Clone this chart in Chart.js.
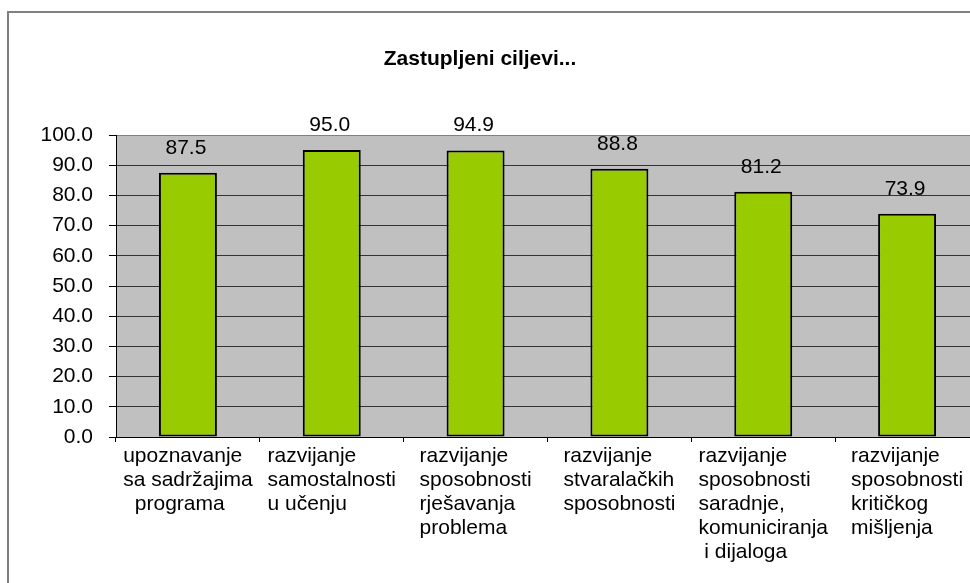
<!DOCTYPE html>
<html>
<head>
<meta charset="utf-8">
<script src="https://cdn.jsdelivr.net/npm/chart.js@4"></script>
<style>
    html, body { margin: 0; padding: 0; background: #fff; overflow: hidden; width: 970px; height: 583px; }
    .frame { position: absolute; left: 7px; top: 11px; width: 1100px; height: 700px; border-left: 2px solid #808080; border-top: 2px solid #808080; }
    #chart { position: absolute; left: 0; top: 0; }
</style>
</head>
<body>
<div class="frame"></div>
<canvas id="chart" width="1000" height="600"></canvas>
<script>
const chartTitle = 'Zastupljeni ciljevi...';
const categories = [
    ['upoznavanje', 'sa sadržajima', '  programa'],
    ['razvijanje', 'samostalnosti', 'u učenju'],
    ['razvijanje', 'sposobnosti', 'rješavanja', 'problema'],
    ['razvijanje', 'stvaralačkih', 'sposobnosti'],
    ['razvijanje', 'sposobnosti', 'saradnje,', 'komuniciranja', ' i dijaloga'],
    ['razvijanje', 'sposobnosti', 'kritičkog', 'mišljenja']
];
const values = [87.5, 95.0, 94.9, 88.8, 81.2, 73.9];
const yMin = 0;
const yMax = 100;
const yStep = 10;

const FONT = 'Arial, "Liberation Sans", sans-serif';

// gray plot background + title
const plotBackground = {
    id: 'plotBackground',
    beforeDraw(chart) {
        const { ctx, chartArea: a } = chart;
        ctx.save();
        ctx.fillStyle = '#C0C0C0';
        ctx.fillRect(a.left, a.top, a.right - a.left, a.bottom - a.top);
        ctx.restore();
    },
    afterDraw(chart) {
        const ctx = chart.ctx;
        ctx.save();
        ctx.font = 'bold 21px ' + FONT;
        ctx.fillStyle = '#000';
        ctx.textAlign = 'center';
        ctx.textBaseline = 'alphabetic';
        ctx.fillText(chartTitle, 480, 65);
        ctx.restore();
    }
};

// category labels: block centred under the category, lines left aligned
const categoryLabels = {
    id: 'categoryLabels',
    afterDraw(chart) {
        const ctx = chart.ctx;
        const xs = chart.scales.x;
        ctx.save();
        ctx.font = '21px ' + FONT;
        ctx.fillStyle = '#000';
        ctx.textAlign = 'left';
        ctx.textBaseline = 'middle';
        categories.forEach(function (lines, i) {
            const cx = xs.getPixelForTick(i);
            const w = Math.max.apply(null, lines.map(l => ctx.measureText(l).width));
            const left = cx - w / 2;
            lines.forEach(function (line, j) {
                ctx.fillText(line, left, xs.top + 7 + 12 + j * 24);
            });
        });
        ctx.restore();
    }
};

// value labels above bars
const barValues = {
    id: 'barValues',
    afterDatasetsDraw(chart) {
        const ctx = chart.ctx;
        const meta = chart.getDatasetMeta(0);
        ctx.save();
        ctx.font = '21px ' + FONT;
        ctx.fillStyle = '#000';
        ctx.textAlign = 'center';
        ctx.textBaseline = 'alphabetic';
        meta.data.forEach(function (bar, i) {
            ctx.fillText(values[i].toFixed(1), bar.x - 2, bar.y - 19);
        });
        ctx.restore();
    }
};

new Chart(document.getElementById('chart'), {
    type: 'bar',
    data: {
        labels: categories,
        datasets: [{
            data: values,
            backgroundColor: '#99CC00',
            borderColor: '#000',
            borderWidth: 2,
            borderSkipped: false,
            categoryPercentage: 1,
            barPercentage: 0.403
        }]
    },
    options: {
        responsive: false,
        animation: false,
        devicePixelRatio: 1,
        layout: { padding: { left: 0, right: 21, top: 135, bottom: 0 } },
        plugins: {
            legend: { display: false },
            title: { display: false },
            tooltip: { enabled: false }
        },
        scales: {
            x: {
                offset: true,
                grid: {
                    offset: true,
                    drawOnChartArea: false,
                    drawTicks: true,
                    tickLength: 5,
                    tickColor: '#000',
                    tickWidth: 1
                },
                border: { display: true, color: '#000', width: 1 },
                ticks: { display: false, autoSkip: false },
                afterFit(scale) { scale.height = 600 - 437; }
            },
            y: {
                min: yMin,
                max: yMax,
                grid: {
                    color: ctx => ctx.tick && ctx.tick.value === yMax ? '#808080' : '#333',
                    lineWidth: 1,
                    tickLength: 7,
                    tickColor: '#000'
                },
                border: { display: true, color: '#000', width: 1 },
                ticks: {
                    stepSize: yStep,
                    color: '#000',
                    padding: 16,
                    font: { family: FONT, size: 21 },
                    callback: v => Number(v).toFixed(1)
                },
                afterFit(scale) { scale.width = 116; }
            }
        }
    },
    plugins: [plotBackground, categoryLabels, barValues]
});
</script>
</body>
</html>
